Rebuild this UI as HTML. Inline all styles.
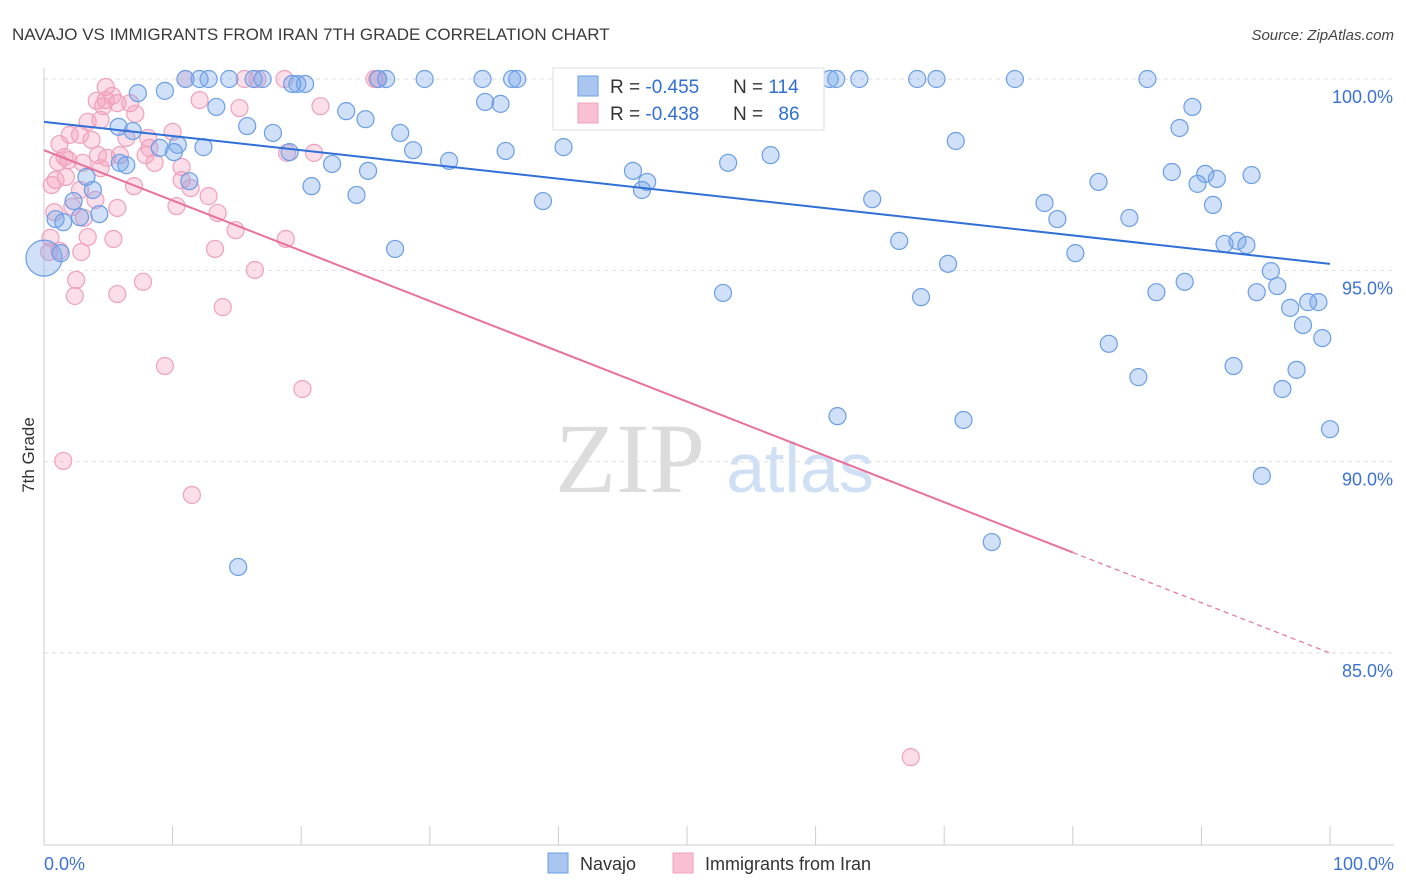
<!DOCTYPE html>
<html><head><meta charset="utf-8"><style>
body{margin:0;background:#fff;font-family:"Liberation Sans",sans-serif}
#c{position:absolute;left:0;top:0}
</style></head><body>
<svg id="c" width="1406" height="892">
<text x="12" y="40" font-size="17" fill="#3a3a3a">NAVAJO VS IMMIGRANTS FROM IRAN 7TH GRADE CORRELATION CHART</text>
<text x="1394" y="40" font-size="15" fill="#444" font-style="italic" text-anchor="end">Source: ZipAtlas.com</text>
<text x="630" y="492" font-size="100" fill="#dcdcdc" font-family="Liberation Serif,serif" text-anchor="middle">ZIP</text>
<text x="800" y="492" font-size="70" fill="#cfe0f5" text-anchor="middle">atlas</text>
<g id="grid"></g><g id="axes"></g><g id="pts"></g><g id="lines"></g>
<text transform="translate(34,455) rotate(-90)" font-size="17" fill="#333" text-anchor="middle">7th Grade</text>
<g>
<rect x="553" y="68" width="271" height="62" fill="#fff" stroke="#ddd"/>
<rect x="578" y="76" width="20" height="20" fill="#a9c6f0" stroke="#6a9ee6"/>
<rect x="578" y="103" width="20" height="20" fill="#f8c0d2" stroke="#f0a0bc"/>
<text x="610" y="93" font-size="19" fill="#333">R = <tspan fill="#2f6fd6">-0.455</tspan></text>
<text x="733" y="93" font-size="19" fill="#333">N = <tspan fill="#2f6fd6">114</tspan></text>
<text x="610" y="120" font-size="19" fill="#333">R = <tspan fill="#2f6fd6">-0.438</tspan></text>
<text x="733" y="120" font-size="19" fill="#333">N = <tspan fill="#2f6fd6" dx="10">86</tspan></text>
</g>
<g>
<rect x="548" y="853" width="20" height="20" fill="#a9c6f0" stroke="#6a9ee6"/>
<text x="580" y="870" font-size="18" fill="#333">Navajo</text>
<rect x="673" y="853" width="20" height="20" fill="#f8c0d2" stroke="#f0a0bc"/>
<text x="705" y="870" font-size="18" fill="#333">Immigrants from Iran</text>
</g>
</svg>
<script>
const yTicks=[100,95,90,85];
const yTickLabels=["100.0%","95.0%","90.0%","85.0%"];
const xTickLabels=["0.0%","100.0%"];
const blueX=[11.0,12.8,14.4,16.3,17.0,12.1,26.0,26.6,29.6,34.1,36.4,36.8,43.8,52.5,58.0,61.1,61.6,63.4,67.9,69.4,75.5,85.8,19.7,20.3,19.3,9.4,7.3,34.3,35.5,13.4,23.5,25.0,89.3,88.3,5.8,6.9,15.8,17.8,27.7,40.4,70.9,10.4,9.0,10.1,12.4,19.1,28.7,35.9,56.5,5.9,6.4,22.4,31.5,53.2,25.2,45.8,87.7,90.3,91.2,93.9,82.0,89.7,46.9,46.5,11.3,3.3,3.8,20.8,24.3,38.8,64.4,77.8,90.9,78.8,84.4,2.3,4.3,2.8,0.9,1.5,66.5,91.8,92.8,93.5,27.3,0,1.3,80.2,70.3,95.4,95.9,86.5,88.7,52.8,68.2,94.3,96.9,99.1,98.3,97.9,99.4,82.8,92.5,97.4,85.1,96.3,61.7,71.5,100,94.7,73.7,15.1];
const blueY=[100,100,100,100,100,100,100,100,100,100,100,100,100,100,100,100,100,100,100,100,100,100,99.87,99.87,99.87,99.69,99.63,99.40,99.35,99.27,99.16,98.95,99.27,98.72,98.75,98.64,98.77,98.59,98.59,98.22,98.38,98.28,98.20,98.09,98.22,98.09,98.14,98.12,98.01,97.81,97.75,97.78,97.86,97.81,97.60,97.60,97.57,97.52,97.39,97.49,97.31,97.26,97.31,97.10,97.33,97.44,97.10,97.20,96.97,96.81,96.86,96.76,96.71,96.34,96.37,96.81,96.47,96.39,96.34,96.26,95.77,95.69,95.77,95.66,95.56,95.32,95.45,95.45,95.17,94.98,94.59,94.43,94.70,94.41,94.30,94.43,94.02,94.17,94.17,93.57,93.23,93.08,92.50,92.40,92.21,91.90,91.19,91.09,90.85,89.63,87.90,87.25];
const pinkX=[11.0,15.6,16.6,18.7,25.7,25.9,4.8,5.3,4.1,4.8,5.7,12.1,6.7,15.2,21.5,4.6,7.1,3.4,4.4,2.0,2.8,3.7,10.0,1.2,6.4,8.1,1.6,1.9,1.1,4.2,4.9,7.9,8.2,8.6,3.0,4.4,21.0,18.9,10.7,0.9,0.6,1.7,7.0,10.7,11.4,12.8,2.8,4.0,2.2,5.7,10.3,13.5,0.8,3.1,14.9,0.5,3.4,5.4,18.8,13.3,1.2,0.4,2.9,16.4,2.5,7.7,2.4,5.7,13.9,9.4,20.1,1.5,11.5,67.4,5.9];
const pinkY=[100,100,100,100,100,100,99.79,99.56,99.43,99.45,99.37,99.45,99.37,99.24,99.29,99.29,99.09,98.88,98.93,98.54,98.54,98.41,98.62,98.30,98.46,98.46,97.96,97.88,97.83,98.01,97.94,98.01,98.20,97.81,97.81,97.67,98.07,98.07,97.70,97.36,97.23,97.44,97.20,97.36,97.15,96.94,97.10,96.84,96.66,96.63,96.68,96.50,96.52,96.37,96.05,95.85,95.87,95.82,95.82,95.56,95.51,95.48,95.48,95.01,94.75,94.70,94.33,94.38,94.04,92.50,91.90,90.02,89.13,82.28,98.01];
const blueTrend=[98.88,95.17];
const pinkTrend=[98.14,85.0];
const pinkSolidEnd=80;
const NS="http://www.w3.org/2000/svg";
const X=v=>44+v*12.86, Y=v=>79+(100-v)*38.27;
function mk(t,a,p){const e=document.createElementNS(NS,t);for(const k in a)e.setAttribute(k,a[k]);p.appendChild(e);return e;}
const grid=document.getElementById('grid'),axes=document.getElementById('axes'),pts=document.getElementById('pts'),lines=document.getElementById('lines');
yTicks.forEach((t,i)=>{
 const g=mk('line',{x1:44,x2:1394,y1:Y(t),y2:Y(t),stroke:'#ddd','stroke-dasharray':'4,4'},grid);
 
 
 const l=mk('text',{x:1393,y:Y(t)+24,'font-size':18,fill:'#3b72d4','text-anchor':'end'},axes);
 l.textContent=yTickLabels[i];
 
 
});
const ax=mk('line',{x1:44,x2:1394,y1:845,y2:845,stroke:'#ccc'},axes);


const ay=mk('line',{x1:44,x2:44,y1:68,y2:845,stroke:'#ccc'},axes);


for(let i=0;i<=10;i++){const t=mk('line',{x1:X(i*10),x2:X(i*10),y1:826,y2:845,stroke:'#ccc'},axes);
 
 }
[[0,'start',44],[1,'end',1394]].forEach(([i,a,x])=>{const t=mk('text',{x:x,y:870,'font-size':18,fill:'#3b72d4','text-anchor':a},axes);t.textContent=xTickLabels[i];
 
 });
function dots(xs,ys,fill,stroke,name){xs.forEach((x,i)=>{const r=(x===0&&name==='navajo-point')?18:8.5;
 const c=mk('circle',{cx:X(x),cy:Y(ys[i]),r:r,fill:fill,stroke:stroke,'stroke-width':1.2},pts);
 
 });}
dots(pinkX,pinkY,'rgba(244,160,190,0.35)','#f0a0bc','iran-point');
dots(blueX,blueY,'rgba(120,165,235,0.35)','#6a9ee6','navajo-point');
const bl=mk('line',{x1:X(0),y1:Y(blueTrend[0]),x2:X(100),y2:Y(blueTrend[1]),stroke:'#2f6fd6','stroke-width':2},lines);


const pm=pinkTrend[0]+(pinkTrend[1]-pinkTrend[0])*pinkSolidEnd/100;
const pl=mk('line',{x1:X(0),y1:Y(pinkTrend[0]),x2:X(pinkSolidEnd),y2:Y(pm),stroke:'#e8709a','stroke-width':2},lines);


const pd=mk('line',{x1:X(pinkSolidEnd),y1:Y(pm),x2:X(100),y2:Y(pinkTrend[1]),stroke:'#e8709a','stroke-width':1.2,'stroke-dasharray':'5,4'},lines);


</script>
</body></html>
